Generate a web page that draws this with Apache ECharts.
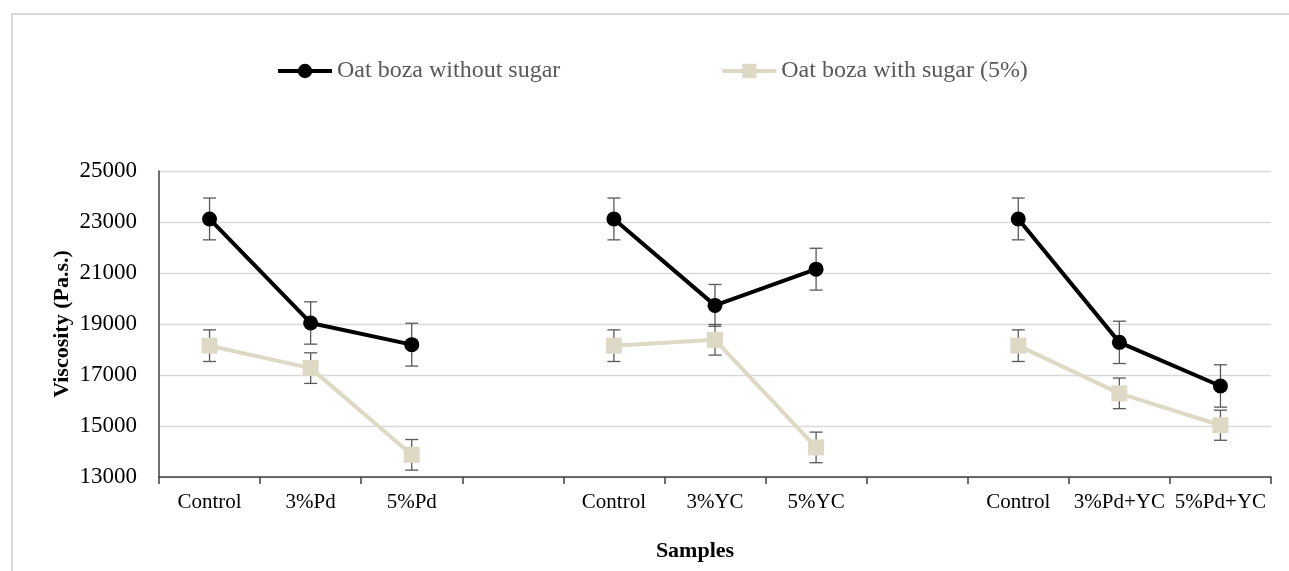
<!DOCTYPE html>
<html>
<head>
<meta charset="utf-8">
<script src="https://cdn.jsdelivr.net/npm/echarts@6/dist/echarts.min.js"></script>
<style>
html,body{margin:0;padding:0;background:#fff;}
#frame{position:absolute;left:11px;top:13px;right:-5px;bottom:-5px;border:2px solid #d9d9d9;}
#chart{position:absolute;left:0;top:0;width:1289px;height:571px;}
</style>
</head>
<body>
<div id="frame"></div>
<div id="chart"></div>
<script>
const categories = ['Control','3%Pd','5%Pd','','Control','3%YC','5%YC','','Control','3%Pd+YC','5%Pd+YC'];
const seriesNames = ['Oat boza without sugar','Oat boza with sugar (5%)'];
const withoutSugar = [23120, 19040, 18190, null, 23120, 19730, 21150, null, 23120, 18280, 16570];
const withoutSugarErr = [820, 830, 840, null, 820, 820, 820, null, 820, 830, 830];
const withSugar = [18150, 17270, 13870, null, 18150, 18380, 14160, null, 18150, 16280, 15030];
const withSugarErr = [620, 600, 600, null, 620, 600, 600, null, 620, 600, 590];
const yTicks = [13000, 15000, 17000, 19000, 21000, 23000, 25000];

const FONT = '"Liberation Serif", "Times New Roman", serif';

function errData(vals, errs) {
  const out = [];
  vals.forEach((v, i) => { if (v != null) out.push([i, v - errs[i], v + errs[i]]); });
  return out;
}
function errRender(params, api) {
  const x = api.value(0);
  const lo = api.coord([x, api.value(1)]);
  const hi = api.coord([x, api.value(2)]);
  const hw = 6.5;
  const st = { stroke: '#595959', lineWidth: 1.3 };
  return {
    type: 'group',
    children: [
      { type: 'line', shape: { x1: hi[0], y1: hi[1], x2: lo[0], y2: lo[1] }, style: st },
      { type: 'line', shape: { x1: hi[0]-hw, y1: hi[1], x2: hi[0]+hw, y2: hi[1] }, style: st },
      { type: 'line', shape: { x1: lo[0]-hw, y1: lo[1], x2: lo[0]+hw, y2: lo[1] }, style: st }
    ]
  };
}

const chart = echarts.init(document.getElementById('chart'), null, { renderer: 'canvas' });
chart.setOption({
  animation: false,
  backgroundColor: 'transparent',
  textStyle: { fontFamily: FONT },
  legend: {
    top: 54,
    left: 271,
    itemGap: 160,
    itemWidth: 54,
    itemHeight: 18,
    lineStyle: { width: 4 },
    textStyle: { fontFamily: FONT, fontSize: 24, color: '#595959' },
    data: [seriesNames[0], seriesNames[1]]
  },
  grid: { left: 159, right: 18, top: 171, bottom: 94, outerBoundsMode: 'none', containLabel: false },
  xAxis: {
    type: 'category',
    data: categories,
    boundaryGap: true,
    name: 'Samples',
    nameLocation: 'middle',
    nameGap: 63,
    nameMoveOverlap: false,
    nameTextStyle: { fontFamily: FONT, fontSize: 22, fontWeight: 'bold', color: '#000', padding: [0, 40, 0, 0] },
    axisLine: { lineStyle: { color: '#404040', width: 1.5 } },
    axisTick: { show: true, interval: 0, length: 7, lineStyle: { color: '#404040', width: 1.5 } },
    axisLabel: { interval: 0, fontFamily: FONT, fontSize: 21, color: '#000', margin: 15 }
  },
  yAxis: {
    type: 'value',
    min: yTicks[0],
    max: yTicks[yTicks.length - 1],
    interval: 2000,
    name: 'Viscosity (Pa.s.)',
    nameLocation: 'middle',
    nameGap: 86,
    nameMoveOverlap: false,
    nameTextStyle: { fontFamily: FONT, fontSize: 22, fontWeight: 'bold', color: '#000' },
    axisLine: { show: true, lineStyle: { color: '#404040', width: 1.5 } },
    axisTick: { show: false },
    splitLine: { lineStyle: { color: '#d9d9d9', width: 1.3 } },
    axisLabel: { fontFamily: FONT, fontSize: 23, color: '#000', margin: 22, formatter: v => String(v) }
  },
  series: [
    {
      type: 'custom', name: 'errA', z: 1, silent: true,
      renderItem: errRender, data: errData(withoutSugar, withoutSugarErr),
      encode: { x: 0, y: [1, 2] }
    },
    {
      type: 'custom', name: 'errB', z: 1, silent: true,
      renderItem: errRender, data: errData(withSugar, withSugarErr),
      encode: { x: 0, y: [1, 2] }
    },
    {
      name: seriesNames[1], type: 'line', z: 2,
      data: withSugar, connectNulls: false,
      symbol: 'rect', symbolSize: 16,
      lineStyle: { color: '#ddd9c4', width: 4 },
      itemStyle: { color: '#ddd9c4' }
    },
    {
      name: seriesNames[0], type: 'line', z: 3,
      data: withoutSugar, connectNulls: false,
      symbol: 'circle', symbolSize: 15,
      lineStyle: { color: '#000', width: 4 },
      itemStyle: { color: '#000' }
    }
  ]
});
</script>
</body>
</html>
